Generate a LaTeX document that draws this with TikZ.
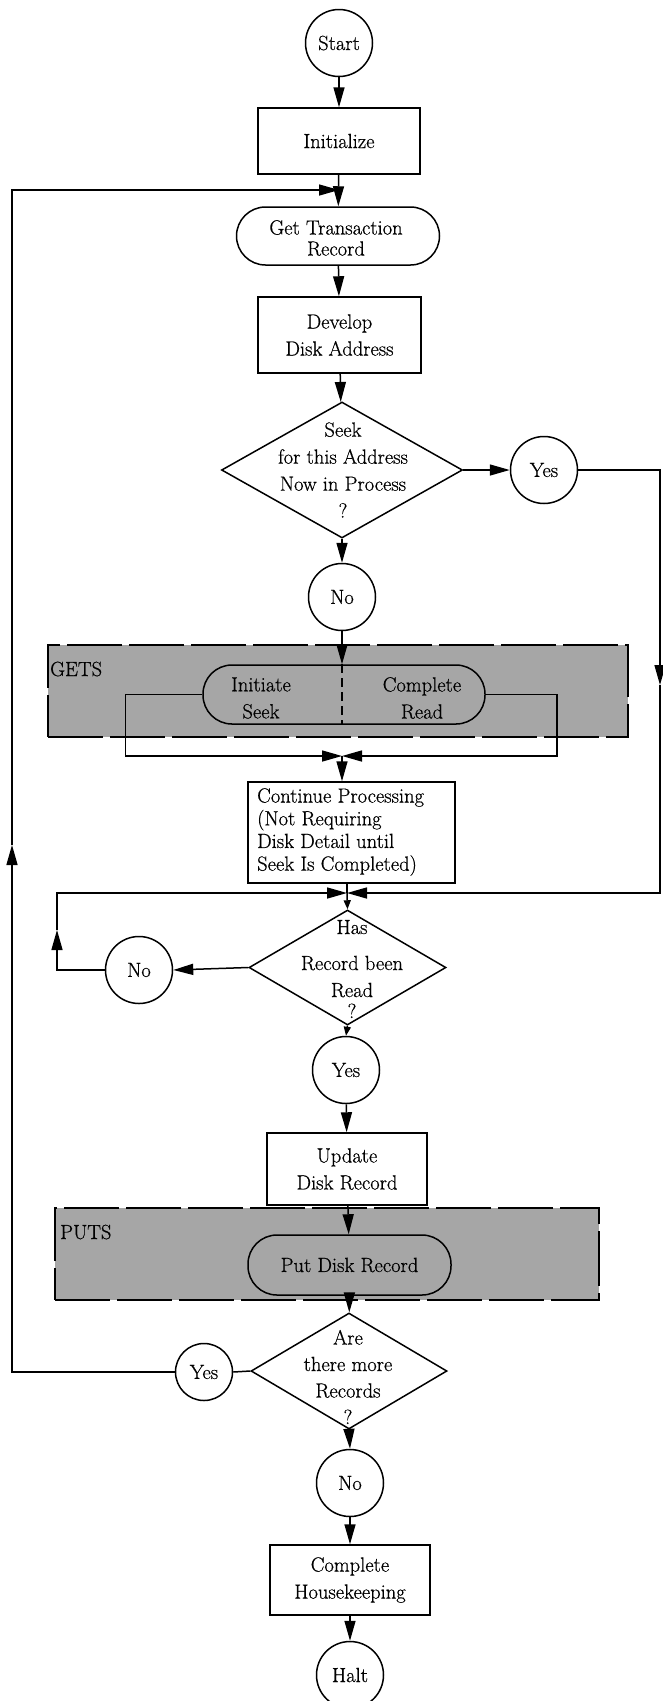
\documentclass[tikz,border=0pt]{standalone}
\usepackage{fontspec}
\newfontfamily\diagfont{Latin Modern Roman}[FakeBold=0.6]
\usetikzlibrary{arrows.meta,shapes.geometric}
\begin{document}
\begin{tikzpicture}[x=1pt,y=-1pt,
  every node/.style={font=\diagfont\fontsize{20.5}{27}\selectfont},
  ln/.style={line width=1.5pt},
  arr/.style={line width=1.5pt,-{Triangle[length=20pt,width=11pt]}},
  sarr/.style={line width=1.5pt,-{Triangle[length=9pt,width=7pt]}},
  procbox/.style={draw,line width=1.5pt,inner sep=0pt,align=center},
  conn/.style={draw,circle,line width=1.5pt,inner sep=0pt,minimum size=67pt},
  smallconn/.style={draw,circle,line width=1.5pt,inner sep=0pt,minimum size=57pt},
  term/.style={draw,line width=1.5pt,inner sep=0pt,rounded corners=29pt,align=center},
  dia/.style={draw,diamond,line width=1.5pt,inner sep=0pt},
  txt/.style={inner sep=0pt,align=center},
  shadebox/.style={draw,line width=1.5pt,fill=black!35,inner sep=0pt,dash pattern=on 55pt off 7pt},
]
\useasboundingbox (0,0) rectangle (662,1701);

% shaded regions
\node[shadebox,minimum width=580pt,minimum height=92pt] (gets) at (338,691) {};
\node[txt,anchor=west] (getslbl) at (50,669) {GETS};
\node[shadebox,minimum width=544pt,minimum height=92pt] (puts) at (327,1254) {};
\node[txt,anchor=west] (putslbl) at (60,1232) {PUTS};

% nodes
\node[conn] (start) at (339,43) {Start};
\node[procbox,minimum width=162pt,minimum height=66pt] (init) at (339,141) {Initialize};
\node[term,minimum width=203pt,minimum height=58pt] (gtr) at (338,236) {};
\node[txt] (gtrt) at (336,238) {Get Transaction\\[-6pt]Record};
\node[procbox,minimum width=163pt,minimum height=76pt] (dev) at (339.5,335) {Develop\\Disk Address};
\node[dia,minimum width=241pt,minimum height=136pt] (d1) at (342,470) {};
\node[txt] (d1t) at (343,470) {Seek\\for this Address\\Now in Process\\?};
\node[conn] (yes1) at (544,470) {Yes};
\node[conn] (no1) at (342,597) {No};
\node[term,minimum width=282pt,minimum height=59pt] (gt) at (344,694.5) {};
\node[txt] (gtl) at (261,698) {Initiate\\Seek};
\node[txt] (gtr2) at (422,698) {Complete\\Read};
\node[procbox,minimum width=207pt,minimum height=101pt] (cont) at (351.5,832.5) {};
\node[txt,align=left,anchor=west,font=\diagfont\fontsize{20.5}{22.7}\selectfont] (contt) at (257,832) {Continue Processing\\(Not Requiring\\Disk Detail until\\Seek Is Completed)};
\node[dia,minimum width=197pt,minimum height=115pt] (d2) at (347.5,967.5) {};
\node[txt] (d2t) at (352,969) {Has\\[9pt]Record been\\Read\\[-6pt]?};
\node[conn] (no2) at (139,970) {No};
\node[conn] (yes2) at (346,1070) {Yes};
\node[procbox,minimum width=160pt,minimum height=72pt] (upd) at (347,1169) {Update\\Disk Record};
\node[term,minimum width=203pt,minimum height=60pt] (put) at (349.5,1265) {Put Disk Record};
\node[dia,minimum width=196pt,minimum height=116pt] (d3) at (349,1371) {};
\node[txt,font=\diagfont\fontsize{20.5}{26.5}\selectfont] (d3t) at (348,1377) {Are\\there more\\Records\\?};
\node[smallconn] (yes3) at (204,1372) {Yes};
\node[conn] (no3) at (350,1483) {No};
\node[procbox,minimum width=160pt,minimum height=70pt] (comp) at (350,1580) {Complete\\Housekeeping};
\node[conn] (halt) at (350,1675) {Halt};

% junction coordinates
\coordinate (jtop) at (339,190);
\coordinate (lp1) at (12,845);
\coordinate (j1) at (342,756);
\coordinate (j2) at (347,893);
\coordinate (rp1) at (660,685);
\coordinate (lp2) at (57,930);

% connectors
\draw[arr] (start) -- (init);
\draw[arr] (init) -- (gtr);
\draw[arr] (gtr) -- (dev);
\draw[arr] (dev) -- (d1);
\draw[arr] (d1.east) -- (yes1.west);
\draw[arr] (d1.south) -- (no1.north);
\draw[arr] (no1.south) -- (no1.south |- gt.north);
\draw[line width=1.2pt,dash pattern=on 9pt off 5pt] (gt.north -| no1) -- (gt.south -| no1);
\draw[arr] (gt.west) -- ++(-77,0) |- (j1);
\draw[arr] (gt.east) -- ++(71,0) |- (j1);
\draw[arr] (j1) -- (j1 |- cont.north);
\draw[ln] (cont.south -| j2) -- (j2);
\draw[arr] (yes1.east) -| (rp1);
\draw[arr] (rp1) |- (j2);
\draw[sarr] (j2) -- (d2.north);
\draw[arr] (d2.west) -- (no2.east);
\draw[arr] (no2.west) -| (lp2);
\draw[arr] (lp2) |- (j2);
\draw[sarr] (d2.south) -- (yes2.north);
\draw[arr] (yes2) -- (upd);
\draw[arr] (upd) -- (put);
\draw[arr] (put) -- (d3);
\draw[ln] (d3.west) -- (yes3.east);
\draw[arr] (yes3.west) -| (lp1);
\draw[arr] (lp1) |- (jtop);
\draw[arr] (d3.south) -- (no3.north);
\draw[arr] (no3) -- (comp);
\draw[arr] (comp) -- (halt);
\end{tikzpicture}
\end{document}
